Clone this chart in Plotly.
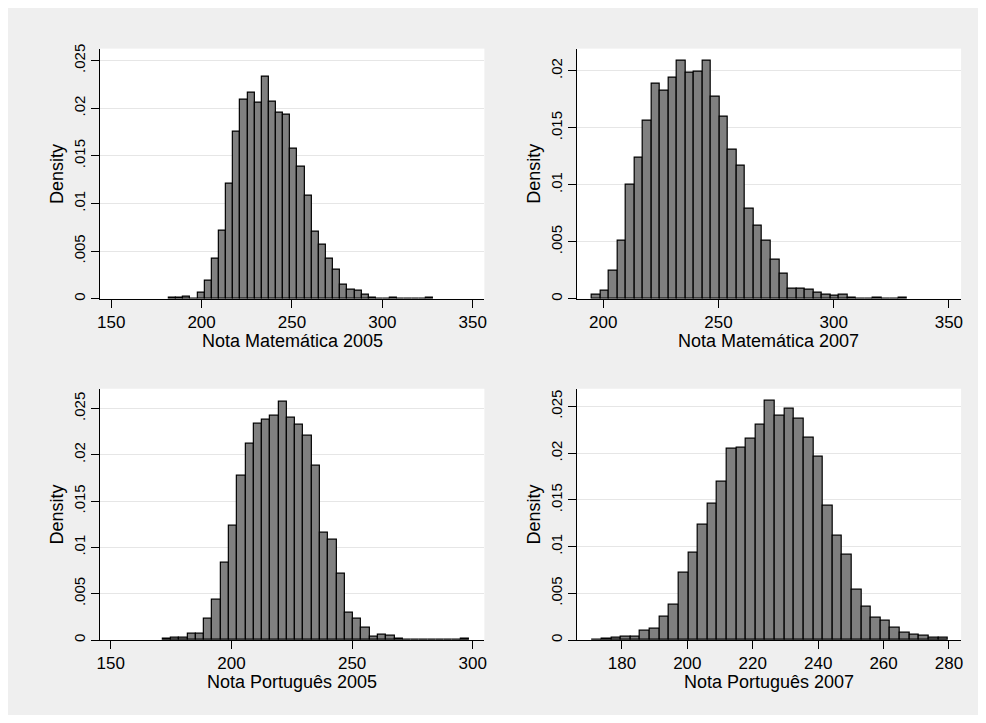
import numpy as np
import plotly.graph_objects as go

# ---------------- data (densities) ----------------
math05_start, math05_width = 182.0, 3.945
math05_density = [0.0001, 0.0001, 0.0002, 0.00005, 0.0006, 0.0019, 0.0042, 0.0072,
                  0.0121, 0.0175, 0.0209, 0.0216, 0.0206, 0.0233, 0.0207, 0.0195,
                  0.0193, 0.0158, 0.0139, 0.0108, 0.0071, 0.0057, 0.0042, 0.0031,
                  0.00145, 0.00097, 0.0009, 0.0004, 0.00017, 0.0, 0.0, 0.0001,
                  0.0, 0.0, 0.0, 0.0, 0.0001]

math07_start, math07_width = 195.0, 3.70
math07_density = [0.00035, 0.00075, 0.0025, 0.0051, 0.0100, 0.0124, 0.0156, 0.0189,
                  0.0183, 0.0194, 0.0209, 0.0198, 0.0199, 0.0209, 0.0177, 0.0160,
                  0.0131, 0.0117, 0.0079, 0.0064, 0.0051, 0.0034, 0.0022, 0.00093,
                  0.00093, 0.00084, 0.00052, 0.00035, 0.00026, 0.00035, 0.00014, 0.0,
                  0.0, 0.0001, 0.0, 0.0, 0.0001]

port05_start, port05_width = 171.5, 3.43
port05_density = [0.00014, 0.0002, 0.0003, 0.00064, 0.00064, 0.0023, 0.0044, 0.0083,
                  0.0123, 0.0177, 0.0212, 0.0234, 0.0238, 0.0242, 0.0257, 0.0240,
                  0.0232, 0.0221, 0.0188, 0.0116, 0.0108, 0.0072, 0.0030, 0.0023,
                  0.0013, 0.0004, 0.00057, 0.0005, 0.0001, 0.0, 0.0, 0.0,
                  0.0, 0.0, 0.0, 0.0, 0.0001]

port07_start, port07_width = 170.9, 2.94
port07_density = [0.00007, 0.0001, 0.0002, 0.0004, 0.00035, 0.00096, 0.0012, 0.0025,
                  0.0038, 0.0072, 0.0093, 0.0123, 0.0146, 0.0169, 0.0205, 0.0206,
                  0.0215, 0.0230, 0.0256, 0.0240, 0.0248, 0.0237, 0.0217, 0.0196,
                  0.0144, 0.0112, 0.0091, 0.0054, 0.0036, 0.0024, 0.0021, 0.0013,
                  0.0008, 0.0006, 0.0005, 0.0002, 0.00025]

titles = ["Nota Matemática 2005", "Nota Matemática 2007",
          "Nota Português 2005", "Nota Português 2007"]
x_ticks = [[150, 200, 250, 300, 350], [200, 250, 300, 350],
           [150, 200, 250, 300], [180, 200, 220, 240, 260, 280]]
y_ticks = [[0, 0.005, 0.01, 0.015, 0.02, 0.025], [0, 0.005, 0.01, 0.015, 0.02],
           [0, 0.005, 0.01, 0.015, 0.02, 0.025], [0, 0.005, 0.01, 0.015, 0.02, 0.025]]
y_tick_text = {0: "0", 0.005: ".005", 0.01: ".01", 0.015: ".015", 0.02: ".02", 0.025: ".025"}

panels = [(math05_start, math05_width, math05_density),
          (math07_start, math07_width, math07_density),
          (port05_start, port05_width, port05_density),
          (port07_start, port07_width, port07_density)]

# ---------------- layout geometry (screen pixels; page has an 8px body margin) ----------------
OFF = 8
W, H = 986 - 2 * OFF, 723 - 2 * OFF
boxes = [(97.5, 484.3, 44, 296.7), (577.3, 964, 44, 296.7),
         (97.5, 484.3, 387.5, 641.3), (577.3, 964, 387.5, 641.3)]
x_ranges = [[143.8, 356.4], [188.5, 355.3], [145.5, 304.8], [166.2, 283.7]]
y_ranges = [[0, 0.02625], [0, 0.02194], [0, 0.02714], [0, 0.0269]]

FONT = "Liberation Sans, Arial, Helvetica, sans-serif"

def px(x):
    return (x - OFF) / W

def py(y):
    return 1 - (y - OFF) / H

fig = go.Figure()
annotations = []
for i, (start, width, dens) in enumerate(panels):
    dens = np.array(dens)
    centers = start + width * (np.arange(len(dens)) + 0.5)
    ax = "" if i == 0 else str(i + 1)
    fig.add_trace(go.Bar(
        x=centers, y=dens, width=width,
        marker=dict(color="#808080", line=dict(color="black", width=1.2)),
        xaxis="x" + ax, yaxis="y" + ax, showlegend=False,
        hoverinfo="x+y"))
    l, r, t, b = boxes[i]
    common = dict(showline=True, linecolor="black", linewidth=1, ticks="outside",
                  ticklen=8, tickcolor="black", tickwidth=1, zeroline=False)
    fig.layout["xaxis" + ax] = dict(
        domain=[px(l), px(r)], range=x_ranges[i], tickmode="array", tickvals=x_ticks[i],
        showgrid=False, anchor="y" + ax,
        tickfont=dict(family=FONT, size=17, color="black"), **common)
    fig.layout["yaxis" + ax] = dict(
        domain=[py(b), py(t)], range=y_ranges[i], tickmode="array", tickvals=y_ticks[i],
        ticktext=[y_tick_text[v] for v in y_ticks[i]], tickangle=-90,
        showgrid=True, gridcolor="#e6e6e6", gridwidth=1, anchor="x" + ax,
        tickfont=dict(family=FONT, size=15, color="black"), **common)
    annotations.append(dict(text=titles[i], xref="paper", yref="paper",
                            x=px((l + r) / 2), y=py(b + 30), xanchor="center",
                            yanchor="top", showarrow=False,
                            font=dict(family=FONT, size=18, color="black")))
    annotations.append(dict(text="Density", xref="paper", yref="paper",
                            x=px(l - 43), y=py((t + b) / 2), xanchor="center",
                            yanchor="middle", textangle=-90, showarrow=False,
                            font=dict(family=FONT, size=18, color="black")))

fig.update_layout(
    width=W, height=H, margin=dict(l=0, r=0, t=0, b=0),
    paper_bgcolor="#efefef", plot_bgcolor="white",
    bargap=0, annotations=annotations,
)

fig.write_html("out.html")
